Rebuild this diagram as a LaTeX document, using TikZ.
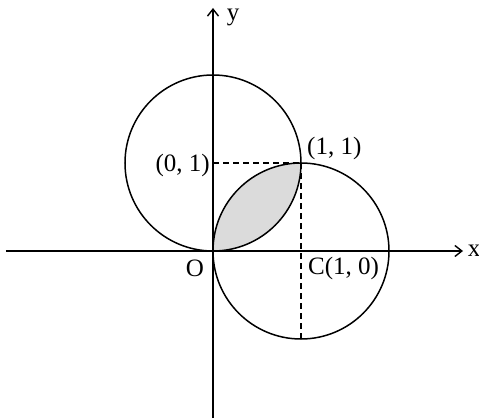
\documentclass[tikz,border=0pt]{standalone}
\usepackage{fontspec}
\setmainfont{Liberation Serif}
\usetikzlibrary{arrows.meta}
\begin{document}
\begin{tikzpicture}[x=88pt,y=88pt,
  axis/.style={line width=2pt,-{Straight Barb[length=7pt,width=11pt,line width=1.4pt]}},
  curve/.style={line width=1.5pt},
  guide/.style={line width=1.5pt,dash pattern=on 6pt off 4pt},
  lbl/.style={font=\fontsize{25}{28}\selectfont,inner sep=0pt}]
\useasboundingbox (-213pt,-167pt) rectangle (266pt,251pt);
\coordinate (O) at (0,0);
\coordinate (A) at (0,1);
\coordinate (B) at (1,1);
\coordinate (C) at (1,0);
\coordinate (D) at (1,-1);
\coordinate (xs) at (-207pt,0);
\coordinate (xe) at (250pt,0);
\coordinate (ys) at (0,-167pt);
\coordinate (ye) at (0,243pt);
\fill[gray!28] (O) arc[start angle=-90,end angle=0,radius=1] arc[start angle=90,end angle=180,radius=1] -- cycle;
\draw[curve] (A) circle[radius=1];
\draw[curve] (C) circle[radius=1];
\draw[guide] (A) -- (B);
\draw[guide] (B) -- (D);
\draw[axis] (xs) -- (xe);
\draw[axis] (ys) -- (ye);
\node[lbl] (lx) at (261pt,0) {x};
\node[lbl] (ly) at (20pt,234pt) {y};
\node[lbl] (lO) at (-18pt,-17pt) {O};
\node[lbl,anchor=west] (lC) at (95pt,-17pt) {C(1, 0)};
\node[lbl,anchor=east] (lA) at (-3pt,-2pt+88pt) {(0, 1)};
\node[lbl,anchor=west] (lB) at (94pt,103pt) {(1, 1)};
\end{tikzpicture}
\end{document}
